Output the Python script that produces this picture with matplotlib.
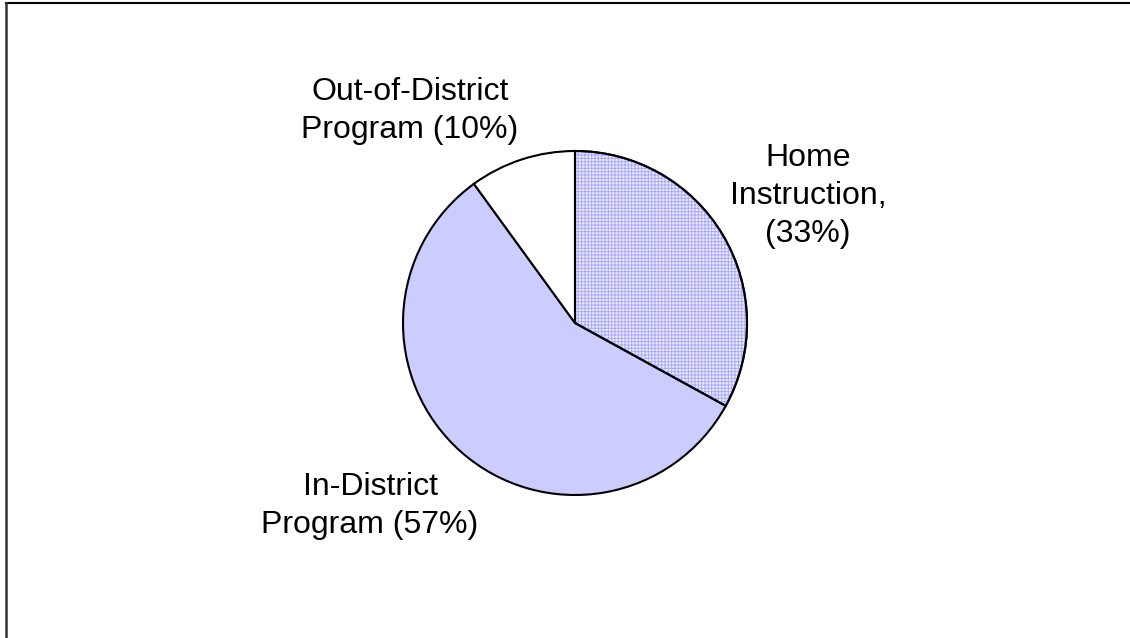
import matplotlib
matplotlib.use("Agg")
import matplotlib.pyplot as plt
from matplotlib.patches import Wedge
from matplotlib.lines import Line2D

plt.rcParams['font.family'] = ['Liberation Sans', 'DejaVu Sans']
plt.rcParams['hatch.linewidth'] = 0.7

categories = ["Home\nInstruction,\n(33%)", "In-District\nProgram (57%)", "Out-of-District\nProgram (10%)"]
values = [33, 57, 10]
colors = ["#FFFFFF", "#CCCCFF", "#FFFFFF"]

W, H = 1130, 638
fig = plt.figure(figsize=(W / 100, H / 100), dpi=100)
ax = fig.add_axes([0, 0, 1, 1])

cx, cy, r = 575, H - 323, 172

wedges, _ = ax.pie(values, colors=colors, startangle=90, counterclock=False,
                   radius=r, center=(cx, cy), frame=True,
                   wedgeprops=dict(edgecolor='black', linewidth=1.5))
ax.set_xlim(0, W)
ax.set_ylim(0, H)
ax.set_aspect('equal')
ax.axis('off')

# fine lavender grid texture over the Home Instruction slice
home = wedges[0]
home.set_facecolor('#EDEDFF')
tex = Wedge(home.center, home.r, home.theta1, home.theta2, fill=False,
            hatch='+' * 5, edgecolor='#A8A8FF', linewidth=0)
ax.add_patch(tex)
outline = Wedge(home.center, home.r, home.theta1, home.theta2, fill=False,
                edgecolor='black', linewidth=1.5)
ax.add_patch(outline)

label_pos = [(808, 196), (370, 506), (410, 111)]
for text, (x, y) in zip(categories, label_pos):
    ax.text(x, H - y, text, ha='center', va='center', fontsize=23,
            linespacing=1.33, color='black')

# frame lines along the top and left
fig.add_artist(Line2D([6 / W, 1], [1 - 3 / H, 1 - 3 / H], color='black', linewidth=1.5))
fig.add_artist(Line2D([6 / W, 6 / W], [0, 1 - 3 / H], color='#333333', linewidth=1.8))

fig.savefig("out.png", dpi=100)
